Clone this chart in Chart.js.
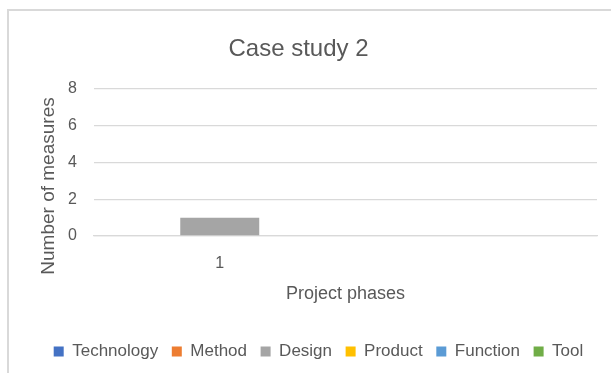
<!DOCTYPE html>
<html>
<head>
<meta charset="utf-8">
<script src="https://cdn.jsdelivr.net/npm/chart.js@4"></script>
<style>
  html, body { margin: 0; padding: 0; background: #ffffff; }
  #wrap { position: relative; width: 611px; height: 373px; overflow: hidden; }
  #frame { position: absolute; left: 7px; top: 9px; width: 700px; height: 500px;
           border-left: 2px solid #d9d9d9; border-top: 2px solid #d9d9d9; }
  canvas { position: absolute; left: 0; top: 0; }
</style>
</head>
<body>
<div id="wrap">
  <div id="frame"></div>
  <canvas id="c" width="611" height="373"></canvas>
</div>
<script>
// ---- data ----
const chartTitle = 'Case study 2';
const xAxisTitle = 'Project phases';
const yAxisTitle = 'Number of measures';
const categories = ['1', ''];
const seriesNames = ['Technology', 'Method', 'Design', 'Product', 'Function', 'Tool'];
const technology = [0, 0];
const method = [0, 0];
const design = [1, 0];
const product = [0, 0];
const functionVals = [0, 0];
const tool = [0, 0];
const yTicks = [0, 2, 4, 6, 8];

const seriesValues = [technology, method, design, product, functionVals, tool];
const seriesColors = ['#4472C4', '#ED7D31', '#A5A5A5', '#FFC000', '#5B9BD5', '#70AD47'];

const FONT = "'Liberation Sans', Arial, sans-serif";
const TEXT = '#595959';
const GRID = '#d9d9d9';

const yTitleShift = {
  id: 'yTitleShift',
  afterLayout(chart) {
    const s = chart.scales.y;
    if (s && !s._shiftPatched) {
      const orig = s.drawTitle.bind(s);
      s.drawTitle = function () {
        const b = this.bottom;
        this.bottom = b + 47;
        orig();
        this.bottom = b;
      };
      s._shiftPatched = true;
    }
    const lg = chart.legend;
    if (lg) { lg.left += 20; lg.right += 20; }
  }
};

new Chart(document.getElementById('c'), {
  type: 'bar',
  data: {
    labels: categories,
    datasets: seriesNames.map((n, i) => ({
      label: n,
      data: seriesValues[i],
      backgroundColor: seriesColors[i],
      borderWidth: 0,
      categoryPercentage: 1,
      barPercentage: 0.314
    }))
  },
  plugins: [yTitleShift],
  options: {
    responsive: false,
    animation: false,
    devicePixelRatio: 1,
    layout: { padding: { left: 0, right: 14, top: 0, bottom: 2.9 } },
    plugins: {
      title: {
        display: true,
        text: chartTitle,
        color: TEXT,
        font: { family: FONT, size: 24, weight: 'normal' },
        padding: { top: 34.6, bottom: 25.6 }
      },
      legend: {
        position: 'bottom',
        labels: {
          color: TEXT,
          font: { family: FONT, size: 17 },
          boxWidth: 10,
          boxHeight: 10,
          padding: 13.6
        }
      },
      tooltip: { enabled: false }
    },
    scales: {
      x: {
        stacked: true,
        grid: { display: false, drawTicks: false },
        border: { display: true, color: GRID, width: 1.3 },
        ticks: { color: TEXT, font: { family: FONT, size: 16 }, padding: 18 },
        title: {
          display: true, text: xAxisTitle, color: TEXT,
          font: { family: FONT, size: 18 }, padding: { top: 0, bottom: 24.4 }
        },
        afterFit(scale) { scale.height = 93.5; }
      },
      y: {
        stacked: true,
        min: 0,
        max: 8,
        afterBuildTicks(scale) { scale.ticks = yTicks.map(v => ({ value: v })); },
        grid: { color: GRID, lineWidth: 1.3, drawTicks: false },
        border: { display: false },
        ticks: { color: TEXT, font: { family: FONT, size: 16 }, padding: 17 },
        title: {
          display: true, text: yAxisTitle, color: TEXT,
          font: { family: FONT, size: 19 }, padding: { top: 37, bottom: 0 }
        },
        afterFit(scale) { scale.width = 94; }
      }
    }
  }
});
</script>
</body>
</html>
